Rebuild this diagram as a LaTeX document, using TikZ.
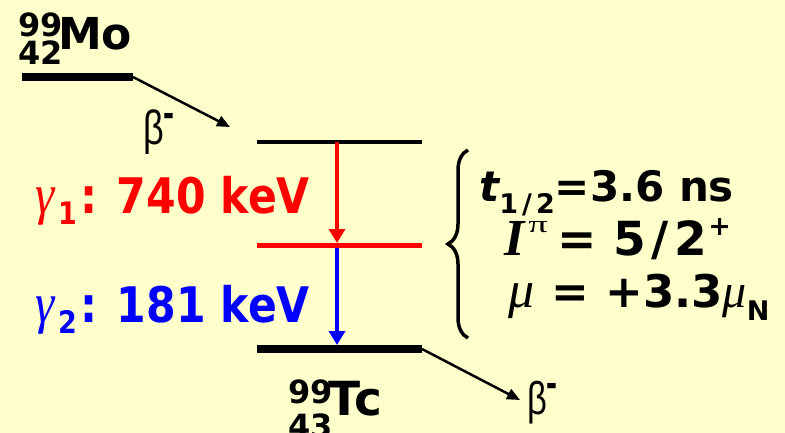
\documentclass[tikz,border=0pt]{standalone}
\usepackage{fontspec}
\setmainfont{DejaVu Sans}
\newfontfamily\serifgreek{Liberation Serif}
\newfontfamily\sansgreek{Liberation Sans}
\usetikzlibrary{arrows.meta,decorations.pathreplacing}
\definecolor{paper}{HTML}{FFFFCC}
\definecolor{gred}{HTML}{FF0000}
\definecolor{gblue}{HTML}{0000FF}
\newcommand{\fs}[1]{\fontsize{#1}{#1}\selectfont}

\begin{document}
\begin{tikzpicture}[
  x=1pt, y=-1pt,
  txt/.style={anchor=base west, inner sep=0pt},
  level/.style={line width=#1, line cap=butt},
  gamarrow/.style={-{Triangle[length=14pt, width=16pt]}, line width=4.5pt},
  betaarrow/.style={-{Triangle[length=13pt, width=11pt]}, line width=2.5pt},
  spinbrace/.style={decorate, decoration={brace, amplitude=20pt}, line width=3.5pt}
]
\fill[paper] (0,0) rectangle (785,433);
\useasboundingbox (0,0) rectangle (785,433);
% level ends
\coordinate (moL) at (22,77);
\coordinate (moR) at (133,77);
\coordinate (exL) at (257,142.5);
\coordinate (exR) at (422,142.5);
\coordinate (midL) at (257,245.5);
\coordinate (midR) at (422,245.5);
\coordinate (gsL) at (257,349);
\coordinate (gsR) at (422,349);
\draw[level=8pt] (moL) -- (moR);
\draw[level=4pt] (exL) -- (exR);
\draw[level=5pt, gred] (midL) -- (midR);
\draw[level=8pt] (gsL) -- (gsR);
% gamma cascade
\coordinate (g1a) at (337,142.5);
\coordinate (g1b) at (337,243);
\coordinate (g2a) at (337,248);
\coordinate (g2b) at (337,345);
\draw[gamarrow, gred] (g1a) -- (g1b);
\draw[gamarrow, gblue] (g2a) -- (g2b);
% beta decays
\coordinate (b1) at (230,127);
\coordinate (b2) at (520,400);
\draw[betaarrow] (moR) -- (b1);
\draw[betaarrow] (gsR) -- (b2);
% nuclides
\node[txt, font=\bfseries\fs{32}] (mo99) at (18,37) {99};
\node[txt, font=\bfseries\fs{32}] (mo42) at (18,65) {42};
\node[txt, font=\bfseries\fs{44}] (mo) at (58,50) {Mo};
\node[txt, font=\bfseries\fs{32}] (tc99) at (288,403) {99};
\node[txt, font=\bfseries\fs{32}] (tc43) at (288,437) {43};
\node[txt, font=\bfseries\fs{47}] (tc) at (328,415) {Tc};
\node[txt, font=\sansgreek\fs{48}, xscale=0.75] (beta1) at (143,145) {β\raisebox{17pt}{\bfseries\fs{44}-}};
\node[txt, font=\sansgreek\fs{46}, xscale=0.75] (beta2) at (527,414) {β\raisebox{17pt}{\bfseries\fs{44}-}};
% gamma labels
\node[txt, font=\bfseries\fs{49}, text=gred, xscale=0.87] (g1lab) at (35,213)
  {{\serifgreek\itshape\mdseries\fs{56}γ}\kern5pt\raisebox{-12pt}{\fs{31}1}\kern3pt: 740 keV};
\node[txt, font=\bfseries\fs{49}, text=gblue, xscale=0.87] (g2lab) at (35,322)
  {{\serifgreek\itshape\mdseries\fs{56}γ}\kern5pt\raisebox{-11pt}{\fs{31}2}\kern3pt: 181 keV};
% state properties
\coordinate (brBot) at (468,338);
\coordinate (brTop) at (468,150);
\draw[spinbrace] (brBot) -- (brTop);
\node[txt, font=\bfseries\fs{42}] (thalf) at (479,202)
  {\itshape t\upshape\raisebox{-11pt}{\fs{27}1\kern.15em/\kern.15em2}=3.6 ns};
\node[txt, font=\bfseries\fs{47}] (spin) at (504,255)
  {{\serifgreek\bfseries\itshape\fs{52}I}\kern4pt\raisebox{23pt}{\serifgreek\mdseries\fs{24}\scalebox{1.6}[1]{π}}\kern10pt= 5\kern.12em/\kern.12em2\kern1pt\raisebox{20pt}{\fs{27}+}};
\node[txt, font=\bfseries\fs{45}] (mag) at (508,307)
  {{\serifgreek\itshape\mdseries\fs{52}μ}\kern2pt{} = +3.3{\serifgreek\itshape\mdseries\fs{48}μ}\raisebox{-13pt}{\fs{27}N}};
\end{tikzpicture}
\end{document}
